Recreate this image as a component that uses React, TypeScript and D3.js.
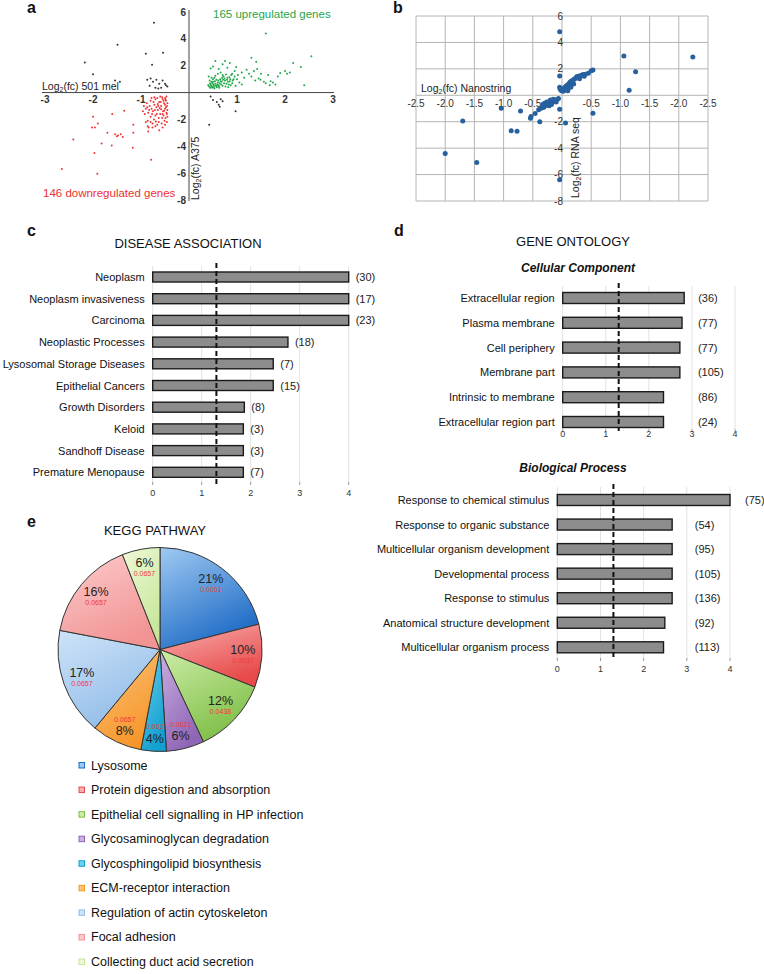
import * as d3 from 'd3';

const FONT = 'Liberation Sans, Arial, Helvetica, sans-serif';

// ---- panel a: Log2(fc) 501 mel vs A375 ----
const upGenes: [number, number][] = [
  [1.6, 4.4], [2.55, 2.7], [2.17, 2.2], [2.33, 1.9], [2.4, 0.55], [1.3, 2.6], [1.4, 2.3], [2.0, 1.6],
  [2.04, 1.4], [1.9, 1.45], [1.7, 0.85], [1.75, 0.75], [1.68, 0.55], [1.49, 0.95], [1.56, 0.8], [1.6, 0.7],
  [1.2, 1.7], [1.1, 1.5], [1.25, 1.4], [1.35, 1.6], [1.42, 1.75], [1.15, 1.1], [1.3, 1.2], [1.45, 1.05],
  [1.05, 0.75], [0.98, 1.9], [0.95, 1.6], [1.02, 1.3], [0.85, 2.2], [0.75, 2.35], [0.7, 2.1], [0.55, 2.35],
  [0.5, 1.95], [0.45, 1.8], [0.62, 1.75], [0.8, 1.85], [0.9, 1.4], [1.1, 0.6], [1.85, 1.2], [1.65, 1.3],
  [1.5, 1.4], [1.38, 0.9], [2.1, 1.5], [1.8, 0.6],
  [0.42, 0.45], [0.45, 0.6], [0.48, 0.35], [0.5, 0.8], [0.52, 0.5], [0.55, 0.65], [0.43, 0.9], [0.47, 1.1],
  [0.58, 0.4], [0.6, 0.75], [0.62, 0.55], [0.65, 1.0], [0.68, 0.8], [0.7, 0.5], [0.72, 1.2], [0.75, 0.9],
  [0.78, 0.65], [0.8, 1.1], [0.82, 0.4], [0.85, 0.85], [0.88, 1.3], [0.9, 0.7], [0.93, 1.0], [0.55, 1.25],
  [0.6, 1.4], [0.66, 1.5], [0.7, 1.3], [0.74, 1.05], [0.76, 0.45], [0.5, 1.0], [0.44, 0.7], [0.4, 0.55],
  [0.41, 1.2], [0.53, 0.3], [0.57, 0.95], [0.63, 0.35], [0.67, 0.6], [0.69, 1.1], [0.73, 0.7], [0.77, 1.35],
  [0.81, 0.8], [0.84, 1.15], [0.87, 0.55], [0.91, 0.9], [0.95, 1.2], [0.46, 0.5], [0.49, 0.7], [0.51, 0.6],
  [0.54, 0.85], [0.56, 0.5], [0.59, 0.6], [0.61, 0.9], [0.64, 0.7], [0.66, 0.85], [0.71, 0.95], [0.79, 0.95],
  [0.83, 0.6], [0.86, 1.0], [0.48, 0.45], [0.52, 0.4], [0.58, 0.5], [0.62, 0.45], [0.44, 0.35], [0.47, 0.8],
  [0.53, 1.1], [1.0, 1.0], [0.97, 0.5],
];

const downGenes: [number, number][] = [
  [-2.65, -5.7], [-1.91, -6.05], [-2.41, -3.5], [-1.97, -4.5], [-2.0, -1.8], [-1.96, -2.6], [-2.02, -2.6],
  [-1.9, -2.3], [-1.82, -3.8], [-1.61, -3.95], [-1.54, -3.1], [-1.48, -3.2], [-1.42, -3.1], [-1.38, -3.3],
  [-1.5, -3.25], [-1.6, -1.6], [-1.35, -1.35], [-1.16, -2.4], [-1.16, -3.0], [-1.17, -4.1], [-0.85, -2.9],
  [-0.86, -2.5], [-0.8, -2.2], [-0.76, -2.6], [-0.79, -5.0], [-1.7, -3.0],
  [-0.5, -0.4], [-0.48, -0.6], [-0.52, -0.8], [-0.46, -1.0], [-0.55, -0.5], [-0.5, -1.2], [-0.47, -1.5],
  [-0.53, -1.7], [-0.49, -1.9], [-0.51, -2.1], [-0.6, -0.3], [-0.62, -0.7], [-0.58, -1.0], [-0.65, -1.3],
  [-0.6, -1.6], [-0.63, -1.9], [-0.57, -2.3], [-0.7, -0.5], [-0.72, -0.9], [-0.68, -1.1], [-0.75, -1.4],
  [-0.7, -1.7], [-0.73, -2.0], [-0.66, -2.4], [-0.8, -0.6], [-0.82, -1.0], [-0.78, -1.2], [-0.85, -1.5],
  [-0.8, -1.8], [-0.88, -0.8], [-0.9, -1.2], [-0.92, -1.6], [-0.86, -2.1], [-0.55, -2.6], [-0.62, -2.8],
  [-0.7, -2.5], [-0.45, -0.8], [-0.45, -1.3], [-0.45, -1.8], [-0.47, -0.3], [-0.54, -1.4], [-0.56, -1.9],
  [-0.59, -0.7], [-0.64, -1.0], [-0.67, -1.6], [-0.71, -1.3], [-0.74, -0.7], [-0.77, -1.6], [-0.83, -1.3],
  [-0.87, -1.1], [-0.53, -0.6], [-0.5, -0.9], [-0.48, -1.1], [-0.46, -1.6], [-0.52, -1.35], [-0.49, -0.5],
  [-0.58, -1.25], [-0.61, -1.15], [-0.55, -1.6], [-0.63, -2.2], [-0.69, -2.15], [-0.76, -2.3], [-0.84, -2.6],
  [-0.9, -2.2], [-0.94, -1.0], [-0.96, -1.4], [-0.5, -2.4], [-0.66, -0.4], [-0.72, -0.35], [-0.78, -0.4],
  [-0.56, -0.35], [-0.65, -0.85], [-0.46, -2.2],
];

const otherGenes: [number, number][] = [
  [-0.73, 5.2], [-1.49, 3.56], [-0.9, 2.9], [-0.54, 2.96], [-0.77, 2.07], [-2.17, 2.24], [-2.0, 1.37],
  [-1.54, 0.9], [-1.44, 0.8], [-0.87, 0.95], [-0.8, 1.05], [-0.75, 0.8], [-0.68, 0.95], [-0.62, 0.65],
  [-0.55, 0.9], [-0.48, 0.55], [-0.45, 0.45], [-0.82, 0.5], [-0.7, 0.35], [-0.64, 0.3], [-0.58, 0.35],
  [-0.5, 0.65], [0.45, -0.3], [0.5, -0.55], [0.58, -0.7], [0.62, -0.9], [0.66, -0.5], [0.7, -0.65],
  [0.64, -1.05], [0.97, -1.4], [0.42, -2.4],
];

const aXTicks = [-3, -2, -1, 1, 2, 3];
const aYTicks = [6, 4, 2, -2, -4, -6, -8];

// ---- panel b: Nanostring vs RNA seq ----
const validationPoints: [number, number][] = [
  [-0.04, 4.8], [1.06, 2.97], [2.24, 2.9], [1.26, 1.79], [1.15, 0.38], [0.53, -1.36], [-0.04, 1.46],
  [-0.04, -1.06], [0.06, -2.1], [-0.04, -6.4], [-2.0, -4.4], [-1.46, -5.08], [-1.7, -1.94], [-1.04, -0.98],
  [-0.87, -2.69], [-0.77, -2.72], [-0.71, -1.18], [-0.54, -1.74], [-0.46, -1.38], [-0.38, -2.01], [-0.53, -1.6],
  [-0.4, -1.1], [-0.37, -1.0], [-0.34, -0.95], [-0.31, -0.9], [-0.3, -0.8], [-0.28, -0.75], [-0.25, -0.68],
  [-0.23, -0.6], [-0.2, -0.58], [-0.18, -0.5], [-0.16, -0.5], [-0.14, -0.43], [-0.12, -0.4], [-0.1, -0.35],
  [-0.08, -0.3], [-0.06, -0.25], [-0.3, -0.6], [-0.22, -0.8], [-0.18, -0.7], [-0.26, -0.5], [-0.15, -0.3],
  [-0.33, -0.7], [-0.1, -0.5], [-0.2, -0.35],
  [0.53, 1.91], [0.5, 1.85], [0.45, 1.66], [0.4, 1.6], [0.36, 1.58], [0.32, 1.5], [0.28, 1.45], [0.25, 1.4],
  [0.22, 1.25], [0.2, 1.2], [0.16, 1.08], [0.14, 1.0], [0.12, 0.9], [0.1, 0.8], [0.07, 0.7], [0.05, 0.6],
  [0.03, 0.5], [0.01, 0.45], [-0.04, 0.6], [-0.01, 0.35], [0.02, 0.3], [0.06, 0.4], [0.09, 0.55], [0.13, 0.65],
  [0.18, 0.95], [0.2, 0.85], [0.1, 0.35], [-0.03, 0.45], [0.3, 1.25], [0.38, 1.45], [0.15, 0.6],
];
const bGridX = [-2.5, -2, -1.5, -1, -0.5, 0, 0.5, 1, 1.5, 2, 2.5];
const bGridY = [6, 4, 2, 0, -2, -4, -6, -8];
const bXTicks = [-2.5, -2, -1.5, -1, -0.5, 0.5, 1, 1.5, 2, 2.5];
const bYTicks = [6, 4, 2, -2, -4, -6, -8];

// ---- panel c: disease association ----
const diseaseTerms = [
  'Neoplasm', 'Neoplasm invasiveness', 'Carcinoma', 'Neoplastic Processes', 'Lysosomal Storage Diseases',
  'Epithelial Cancers', 'Growth Disorders', 'Keloid', 'Sandhoff Disease', 'Premature Menopause',
];
const diseaseScores = [4.0, 4.0, 4.0, 2.76, 2.46, 2.46, 1.87, 1.85, 1.85, 1.85];
const diseaseCounts = [30, 17, 23, 18, 7, 15, 8, 3, 3, 7];

// ---- panel d: gene ontology ----
const ccTerms = [
  'Extracellular region', 'Plasma membrane', 'Cell periphery', 'Membrane part', 'Intrinsic to membrane',
  'Extracellular region part',
];
const ccScores = [2.82, 2.77, 2.72, 2.72, 2.34, 2.34];
const ccCounts = [36, 77, 77, 105, 86, 24];

const bpTerms = [
  'Response to chemical stimulus', 'Response to organic substance', 'Multicellular organism development',
  'Developmental process', 'Response to stimulus', 'Anatomical structure development',
  'Multicellular organism process',
];
const bpScores = [4.0, 2.66, 2.66, 2.66, 2.66, 2.49, 2.46];
const bpCounts = [75, 54, 95, 105, 136, 92, 113];

const scoreTicks = [0, 1, 2, 3, 4];
const THRESHOLD = 1.3;

// ---- panel e: KEGG pathway ----
const keggPathways = [
  'Lysosome', 'Protein digestion and absorption', 'Epithelial cell signalling in HP infection',
  'Glycosaminoglycan degradation', 'Glycosphingolipid biosynthesis', 'ECM-receptor interaction',
  'Regulation of actin cytoskeleton', 'Focal adhesion', 'Collecting duct acid secretion',
];
const keggShares = [21, 10, 12, 6, 4, 8, 17, 16, 6];
const keggPValues = ['0.0001', '0.0037', '0.0438', '0.0621', '0.062', '0.0657', '0.0657', '0.0657', '0.0657'];
const keggLight = ['#9fcaf2', '#f8b0b0', '#cdeca6', '#cbb0e2', '#6fd0ef', '#fcc47c', '#cde3f8', '#fccccc', '#eef9d8'];
const keggDark = ['#1f6cc6', '#e84a4a', '#80c04a', '#8f66b6', '#12a0d0', '#f6962a', '#94bde9', '#f29494', '#c8e69a'];

function BarPanel(props: {
  terms: string[]; scores: number[]; counts: number[];
  x0: number; x1: number; yFirst: number; yLast: number; barH: number;
  gridTop: number; gridBottom: number; tickY: number; countAt: (end: number, x: d3.ScaleLinear<number, number>) => number;
}) {
  const { terms, scores, counts, x0, x1, yFirst, yLast, barH, gridTop, gridBottom, tickY, countAt } = props;
  const x = d3.scaleLinear().domain([0, 4]).range([x0, x1]);
  const y = d3.scalePoint<string>().domain(terms).range([yFirst, yLast]);
  return (
    <g>
      {scoreTicks.map(t => (
        <g key={t}>
          <line x1={x(t)} x2={x(t)} y1={gridTop} y2={gridBottom} stroke="#e2e2e2" strokeWidth={1} />
          <line x1={x(t)} x2={x(t)} y1={gridBottom} y2={gridBottom + 3} stroke="#999" strokeWidth={1} />
          <text x={x(t)} y={tickY} textAnchor="middle" fontSize={9} fill="#333">{t}</text>
        </g>
      ))}
      {terms.map((t, i) => {
        const cy = y(t) as number;
        const end = x(scores[i]);
        return (
          <g key={t}>
            <text x={x0 - 8} y={cy + 4} textAnchor="end" fontSize={11} fill="#111">{t}</text>
            <rect x={x0} y={cy - barH / 2} width={end - x0} height={barH} fill="#8c8c8c" stroke="#1a1a1a" strokeWidth={1.4} />
            <text x={countAt(end, x)} y={cy + 4} fontSize={11} fill="#222">({counts[i]})</text>
          </g>
        );
      })}
      <line x1={x(THRESHOLD)} x2={x(THRESHOLD)} y1={gridTop - 3} y2={gridBottom + 2} stroke="#111" strokeWidth={2} strokeDasharray="5,3" />
    </g>
  );
}

function Log2Label({ x, y, rest, rotate }: { x: number; y: number; rest: string; rotate?: boolean }) {
  return (
    <text x={x} y={y} fontSize={10.5} fill="#222" transform={rotate ? `rotate(-90 ${x} ${y})` : undefined}>
      Log<tspan fontSize={7} dy={2}>2</tspan><tspan dy={-2}>(fc) {rest}</tspan>
    </text>
  );
}

export default function App() {
  // a
  const xa = d3.scaleLinear().domain([-3, 3]).range([45, 333]);
  const ya = d3.scaleLinear().domain([-8, 6]).range([200, 12]);
  // b
  const xb = d3.scaleLinear().domain([-2.5, 2.5]).range([416, 708]);
  const yb = d3.scaleLinear().domain([-8, 6]).range([201, 16]);
  // e
  const cx = 160, cy = 649.5, R = 102;
  const pie = d3.pie<number>().sort(null).value(d => d)(keggShares);
  const arc = d3.arc<d3.PieArcDatum<number>>().innerRadius(0).outerRadius(R);
  const legendY = d3.scalePoint<string>().domain(keggPathways).range([769.5, 966]);

  return (
    <svg width={764} height={974} fontFamily={FONT} style={{ position: 'absolute', left: 0, top: 0, background: '#fff' }}>
      <defs>
        {keggLight.map((c, i) => (
          <linearGradient key={i} id={`kegg${i}`} x1="0" y1="0" x2="0.5" y2="1">
            <stop offset="0%" stopColor={c} />
            <stop offset="100%" stopColor={keggDark[i]} />
          </linearGradient>
        ))}
      </defs>

      {/* panel letters */}
      <g fontWeight="bold" fontSize={16} fill="#111">
        <text x={27} y={13}>a</text>
        <text x={393} y={13}>b</text>
        <text x={27} y={236}>c</text>
        <text x={394} y={236}>d</text>
        <text x={27} y={527}>e</text>
      </g>

      {/* ---- a ---- */}
      <line x1={42} x2={334} y1={ya(0)} y2={ya(0)} stroke="#444" />
      <line x1={xa(0)} x2={xa(0)} y1={10} y2={201} stroke="#444" />
      {aXTicks.map(t => (
        <text key={t} x={xa(t)} y={ya(0) + 10} textAnchor="middle" fontSize={10} fontWeight="bold" fill="#333">{t}</text>
      ))}
      {aYTicks.map(t => (
        <text key={t} x={xa(0) - 3} y={ya(t) + 3.5} textAnchor="end" fontSize={10} fontWeight="bold" fill="#333">{t}</text>
      ))}
      {otherGenes.map((p, i) => <circle key={'o' + i} cx={xa(p[0])} cy={ya(p[1])} r={1} fill="#333" />)}
      {downGenes.map((p, i) => <circle key={'d' + i} cx={xa(p[0])} cy={ya(p[1])} r={1} fill="#ee3535" />)}
      {upGenes.map((p, i) => <circle key={'u' + i} cx={xa(p[0])} cy={ya(p[1])} r={1} fill="#20a848" />)}
      <Log2Label x={42} y={90} rest="501 mel" />
      <Log2Label x={199} y={200} rest="A375" rotate />
      <text x={213} y={18} fontSize={11.5} fill="#1fa64a">165 upregulated genes</text>
      <text x={43} y={197} fontSize={11.5} fill="#ee3030">146 downregulated genes</text>

      {/* ---- b ---- */}
      {bGridX.map(v => <line key={'gx' + v} x1={xb(v)} x2={xb(v)} y1={yb(6)} y2={yb(-8)} stroke="#b4b4b4" />)}
      {bGridY.map(v => <line key={'gy' + v} x1={xb(-2.5)} x2={xb(2.5)} y1={yb(v)} y2={yb(v)} stroke="#b4b4b4" />)}
      {bXTicks.map(t => (
        <text key={t} x={xb(t)} y={yb(0) + 12} textAnchor="middle" fontSize={10} fill="#333">{`-${Math.abs(t).toFixed(1)}`}</text>
      ))}
      {bYTicks.map(t => (
        <text key={t} x={xb(0) + 1} y={yb(t) + 3.5} textAnchor="end" fontSize={10} fill="#333">{t}</text>
      ))}
      <Log2Label x={421} y={92} rest="Nanostring" />
      <Log2Label x={579} y={198} rest="RNA seq" rotate />
      {validationPoints.map((p, i) => <circle key={'v' + i} cx={xb(p[0])} cy={yb(p[1])} r={2.5} fill="#27609e" />)}

      {/* ---- c ---- */}
      <text x={188} y={248} textAnchor="middle" fontSize={13} fill="#111">DISEASE ASSOCIATION</text>
      <BarPanel terms={diseaseTerms} scores={diseaseScores} counts={diseaseCounts}
        x0={152.7} x1={348.7} yFirst={277} yLast={472.3} barH={10}
        gridTop={266} gridBottom={482} tickY={496} countAt={end => end + 7} />

      {/* ---- d ---- */}
      <text x={573} y={246} textAnchor="middle" fontSize={13} fill="#111">GENE ONTOLOGY</text>
      <text x={578} y={272} textAnchor="middle" fontSize={12} fontWeight="bold" fontStyle="italic" fill="#111">Cellular Component</text>
      <BarPanel terms={ccTerms} scores={ccScores} counts={ccCounts}
        x0={562.7} x1={735} yFirst={298} yLast={422} barH={11}
        gridTop={286} gridBottom={429} tickY={437} countAt={(end, x) => Math.max(x(3) + 6, end + 14)} />
      <text x={573} y={472} textAnchor="middle" fontSize={12} fontWeight="bold" fontStyle="italic" fill="#111">Biological Process</text>
      <BarPanel terms={bpTerms} scores={bpScores} counts={bpCounts}
        x0={557.3} x1={730} yFirst={500} yLast={647.3} barH={11}
        gridTop={487} gridBottom={658} tickY={672} countAt={(end, x) => Math.max(x(3) + 8, end + 15)} />

      {/* ---- e ---- */}
      <text x={155} y={535} textAnchor="middle" fontSize={13} fill="#111">KEGG PATHWAY</text>
      <g transform={`translate(${cx},${cy})`}>
        {pie.map((s, i) => (
          <path key={i} d={arc(s) as string} fill={`url(#kegg${i})`} stroke="#333" strokeWidth={1} />
        ))}
        {pie.map((s, i) => {
          const a = (s.startAngle + s.endAngle) / 2;
          const lx = Math.sin(a) * 83;
          const ly = -Math.cos(a) * 83;
          const below = a > 2.6 && a < 4.0;
          return (
            <g key={'l' + i}>
              <text x={lx} y={ly + (below ? 10.5 : -1)} textAnchor="middle" fontSize={12.5} fill="#222">{keggShares[i]}%</text>
              <text x={lx} y={ly + (below ? -3 : 8)} textAnchor="middle" fontSize={7} fill="#f03a3a">{keggPValues[i]}</text>
            </g>
          );
        })}
      </g>
      {keggPathways.map((p, i) => {
        const ly = legendY(p) as number;
        return (
          <g key={p}>
            <rect x={79} y={ly - 7} width={5.5} height={5.5} fill={keggLight[i]} stroke={keggDark[i]} strokeWidth={1} />
            <text x={91} y={ly} fontSize={12.5} fill="#111">{p}</text>
          </g>
        );
      })}
    </svg>
  );
}
